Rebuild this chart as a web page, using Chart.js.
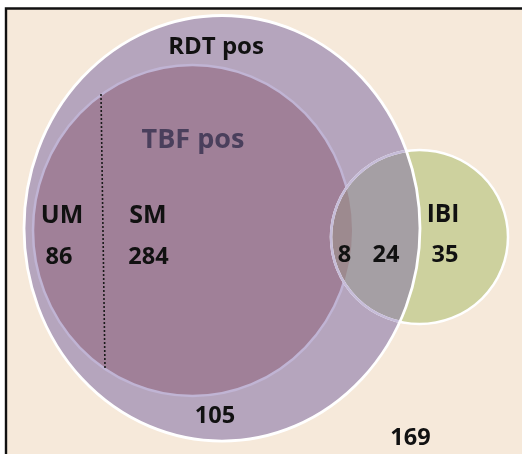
<!DOCTYPE html>
<html>
<head>
<meta charset="utf-8">
<script src="https://cdn.jsdelivr.net/npm/chart.js@4"></script>
<style>
html,body{margin:0;padding:0;background:#ffffff;}
#wrap{width:522px;height:454px;}
</style>
</head>
<body>
<div id="wrap"><canvas id="c" width="522" height="454"></canvas></div>
<script>
// ---- data ----
const setNames = ['RDT pos', 'TBF pos', 'IBI'];
const regionNames = ['UM', 'SM', 'TBF∩IBI', 'RDT∩IBI', 'IBI only', 'RDT only', 'None'];
const regionCounts = [86, 284, 8, 24, 35, 105, 169];
const subgroupLabels = ['UM', 'SM'];

// ---- layout (pixel-space data units of hidden linear scales) ----
const circles = {
  RDT: { cx: 222, cy: 228.3, rx: 198, ry: 212.8 },
  TBF: { cx: 192.5, cy: 230.5, rx: 159.5, ry: 165.5 },
  IBI: { cx: 419.5, cy: 237, rx: 88.5, ry: 87 }
};
const setLabelPos = [ {x: 216, y: 45}, {x: 193, y: 138}, {x: 443, y: 213.5} ];
const subgroupPos = [ {x: 62, y: 214}, {x: 148, y: 214} ];
const countPos = [ {x: 59, y: 256}, {x: 148.5, y: 256}, {x: 344.5, y: 253.5}, {x: 386, y: 253.5},
                   {x: 445, y: 253.5}, {x: 215, y: 414.5}, {x: 410.5, y: 436.5} ];
const divider = [ {x: 101, y: 94}, {x: 105, y: 369} ];

const FONT = '"Open Sans", "DejaVu Sans", sans-serif';

const vennPlugin = {
  id: 'venn',
  beforeDatasetsDraw(chart) {
    const ctx = chart.ctx;
    const xs = chart.scales.x, ys = chart.scales.y;
    const px = v => xs.getPixelForValue(v);
    const py = v => ys.getPixelForValue(v);
    const E = c => {
      const cx = px(c.cx), cy = py(c.cy);
      const rx = Math.abs(px(c.cx + c.rx) - cx), ry = Math.abs(py(c.cy + c.ry) - cy);
      ctx.beginPath();
      ctx.ellipse(cx, cy, rx, ry, 0, 0, Math.PI * 2);
    };
    ctx.save();
    // frame background
    ctx.fillStyle = '#f6e9da';
    ctx.fillRect(px(6), py(8.5), chart.width, chart.height);
    ctx.strokeStyle = '#111111';
    ctx.lineWidth = 2.4;
    ctx.beginPath();
    ctx.moveTo(px(6), chart.height + 5);
    ctx.lineTo(px(6), py(8.5));
    ctx.lineTo(chart.width + 5, py(8.5));
    ctx.stroke();

    // RDT
    E(circles.RDT); ctx.fillStyle = '#b5a5bd'; ctx.fill();
    // TBF
    E(circles.TBF); ctx.fillStyle = '#a08098'; ctx.fill();
    ctx.strokeStyle = '#c0b4d4'; ctx.lineWidth = 2.5; ctx.stroke();
    // IBI
    E(circles.IBI); ctx.fillStyle = '#cdd19e'; ctx.fill();
    ctx.save();
    E(circles.IBI); ctx.clip();
    E(circles.RDT); ctx.fillStyle = '#a59fa4'; ctx.fill();
    E(circles.TBF); ctx.fillStyle = '#9d8a8f'; ctx.fill();
    ctx.restore();
    // IBI outline: white outside RDT, lavender inside
    E(circles.IBI); ctx.strokeStyle = '#ffffff'; ctx.lineWidth = 2.5; ctx.stroke();
    ctx.save();
    E(circles.RDT); ctx.clip();
    E(circles.IBI); ctx.strokeStyle = '#c6bcd8'; ctx.lineWidth = 2.5; ctx.stroke();
    ctx.restore();
    // RDT outline
    E(circles.RDT); ctx.strokeStyle = '#ffffff'; ctx.lineWidth = 2.8; ctx.stroke();

    // divider (dotted)
    ctx.beginPath();
    ctx.setLineDash([2, 2]);
    ctx.strokeStyle = '#1a1a1a';
    ctx.lineWidth = 1.6;
    ctx.moveTo(px(divider[0].x), py(divider[0].y));
    ctx.lineTo(px(divider[1].x), py(divider[1].y));
    ctx.stroke();
    ctx.setLineDash([]);

    // texts (y = cap-middle)
    const txt = (s, p, size, color) => {
      ctx.font = 'bold ' + size + 'px ' + FONT;
      ctx.fillStyle = color;
      ctx.textAlign = 'center';
      ctx.textBaseline = 'alphabetic';
      ctx.fillText(s, px(p.x), py(p.y) + size * 0.357);
    };
    txt(setNames[0], setLabelPos[0], 24, '#111111');
    txt(setNames[1], setLabelPos[1], 27, '#4a3f5c');
    txt(setNames[2], setLabelPos[2], 24.5, '#111111');
    subgroupLabels.forEach((s, i) => txt(s, subgroupPos[i], 25, '#111111'));
    regionCounts.forEach((v, i) => txt(String(v), countPos[i], 23.5, '#111111'));
    ctx.restore();
  }
};

new Chart(document.getElementById('c'), {
  type: 'scatter',
  data: {
    datasets: [{
      label: 'Regions',
      data: countPos.map((p, i) => ({ x: p.x, y: p.y, v: regionCounts[i], name: regionNames[i] })),
      pointRadius: 0,
      pointHoverRadius: 0
    }]
  },
  options: {
    responsive: false,
    devicePixelRatio: 1,
    animation: false,
    layout: { padding: 0 },
    plugins: { legend: { display: false }, tooltip: { enabled: false } },
    scales: {
      x: { type: 'linear', min: 0, max: 522, display: false },
      y: { type: 'linear', min: 0, max: 454, reverse: true, display: false }
    }
  },
  plugins: [vennPlugin]
});
</script>
</body>
</html>
